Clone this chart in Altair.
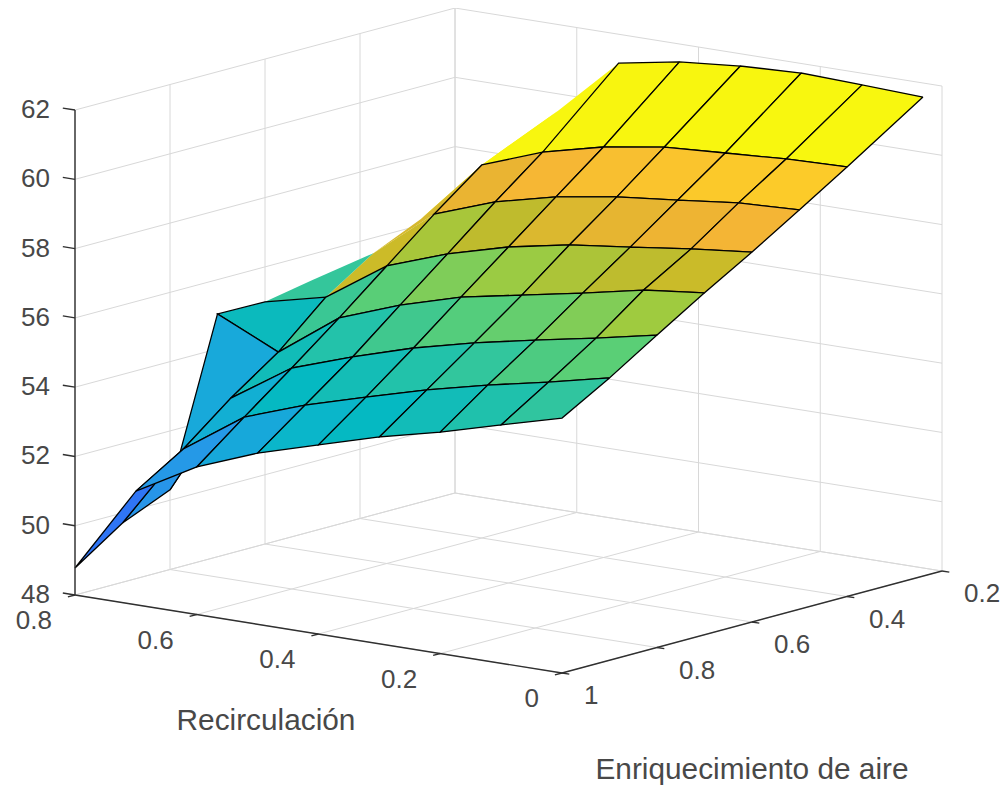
import altair as alt
import pandas as pd

RECIRC = [0.0, 0.1, 0.2, 0.3, 0.4, 0.5, 0.6, 0.7, 0.8]
ENRIQ = [0.24, 0.4, 0.5, 0.6, 0.7, 0.8, 0.9, 1.0]
N = None
Z = [
    [61.83, 61.90, 61.96, 61.88, 61.72, 61.40, N, N, N],
    [60.40, 60.35, 60.24, 60.13, 59.85, 59.42, 58.77, N, N],
    [59.53, 59.45, 59.25, 59.06, 58.78, 58.35, 57.72, N, N],
    [58.68, 58.49, 58.26, 58.04, 57.70, 57.22, 56.59, 55.41, 54.99],
    [57.87, 57.67, 57.30, 56.96, 56.62, 56.11, 55.46, 54.19, 55.01],
    [57.02, 56.65, 56.31, 55.95, 55.52, 54.98, 54.38, 53.23, 50.30],
    [56.15, 55.75, 55.38, 54.96, 54.47, 53.96, 53.33, 52.13, 49.71],
    [55.36, 54.88, 54.39, 53.97, 53.46, 52.94, 52.26, 51.28, 48.78],
]
# facets behind the mesh, drawn without edges: (i, j) of the cell, colour value
Z_HIDDEN = {(0, 6): 59.74, (0, 7): 58.07, (1, 7): 56.93, (2, 7): 56.31, (2, 8): 55.25}
HIDDEN_CELLS = [(0, 5, 60.0), (0, 6, 59.9), (1, 6, 58.0), (2, 6, 57.9), (2, 7, 55.4)]

Z_TICKS = [48, 50, 52, 54, 56, 58, 60, 62]
R_TICKS = [0.8, 0.6, 0.4, 0.2, 0.0]
E_TICKS = [1.0, 0.8, 0.6, 0.4, 0.2]
R_LABELS = ["0.8", "0.6", "0.4", "0.2", "0"]
E_LABELS = ["1", "0.8", "0.6", "0.4", "0.2"]

CMAP_Z = [48.8, 51.3, 52.2, 52.9, 53.25, 53.4, 53.5, 54.0, 54.4, 54.9, 55.35, 55.6, 56.2, 57.0,
          57.7, 57.9, 58.05, 58.3, 58.7, 59.53, 59.8, 62.0]
CMAP_C = ["#2f6ff5", "#2f75f5", "#2698e8", "#17a8da", "#18a9da", "#0cb5cc", "#08b7c8", "#05b9c2", "#12bcb8",
          "#20c1ac", "#2fc5a0", "#48ca85", "#5ccf75", "#9ecb40", "#bfbb2d", "#ccbb28",
          "#dcb82f", "#e8b431", "#f5b535", "#fccb29", "#f8f50f", "#f9fb0e"]

FONT = "Liberation Sans"
TEXT = "#484848"


def px(r, e):
    return 562 - 608.75 * r + 475 * (1 - e)


def py(r, e, z):
    return 673 - 97.5 * r - 127.5 * (1 - e) - 34.64 * (z - 48)


def cell_rows(z_at, i, j, c, cid):
    corners = [(i, j), (i, j + 1), (i + 1, j + 1), (i + 1, j), (i, j)]
    return [
        {"x": px(RECIRC[b], ENRIQ[a]), "y": py(RECIRC[b], ENRIQ[a], z_at(a, b)),
         "c": c, "cell": cid, "k": k}
        for k, (a, b) in enumerate(corners)
    ]


def z_all(a, b):
    return Z[a][b] if Z[a][b] is not None else Z_HIDDEN[(a, b)]


mesh, hidden = [], []
for cid, (i, j, c) in enumerate(HIDDEN_CELLS):
    hidden += cell_rows(z_all, i, j, c, cid)
cid = 0
for i in range(len(ENRIQ) - 1):
    for j in reversed(range(len(RECIRC) - 1)):
        if None in (Z[i][j], Z[i][j + 1], Z[i + 1][j], Z[i + 1][j + 1]):
            continue
        mesh += cell_rows(z_all, i, j, Z[i + 1][j], cid)
        cid += 1


def seg_rows(segs):
    rows = []
    for n, (a, b) in enumerate(segs):
        for k, (r, e, z) in enumerate((a, b)):
            rows.append({"x": px(r, e), "y": py(r, e, z), "seg": n, "k": k})
    return rows


R0, R1, E0, E1, Z0, Z1 = 0.0, 0.8, 0.2, 1.0, 48, 62
grid = []
for r in R_TICKS:
    grid.append(((r, E1, Z0), (r, E0, Z0)))
    grid.append(((r, E0, Z0), (r, E0, Z1)))
for e in E_TICKS:
    grid.append(((R1, e, Z0), (R0, e, Z0)))
    grid.append(((R1, e, Z0), (R1, e, Z1)))
for z in Z_TICKS:
    grid.append(((R1, E1, z), (R1, E0, z)))
    grid.append(((R1, E0, z), (R0, E0, z)))

axes = [((R1, E1, Z0), (R0, E1, Z0)), ((R0, E1, Z0), (R0, E0, Z0)), ((R1, E1, Z0), (R1, E1, Z1))]
axes += [((R1, E1, z), (R1 + 0.02, E1, z)) for z in Z_TICKS]
axes += [((r, E1, Z0), (r, E1 + 0.015, Z0)) for r in R_TICKS]
axes += [((R0, e, Z0), (R0 - 0.012, e, Z0)) for e in E_TICKS]

xs = alt.Scale(domain=[8, 1000], nice=False, zero=False)
ys = alt.Scale(domain=[786, 8], nice=False, zero=False)
X = alt.X("x:Q", scale=xs, axis=None)
Y = alt.Y("y:Q", scale=ys, axis=None)
fill = alt.Fill("c:Q", scale=alt.Scale(domain=CMAP_Z, range=CMAP_C, interpolate="rgb"), legend=None)


def lines(rows, color, width):
    return alt.Chart(pd.DataFrame(rows)).mark_line(stroke=color, strokeWidth=width).encode(
        x=X, y=Y, detail="seg:N", order="k:Q")


def facets(rows, **kw):
    return alt.Chart(pd.DataFrame(rows)).mark_line(**kw).encode(
        x=X, y=Y, fill=fill, detail="cell:N", order="k:Q")


def labels(rows, size, **kw):
    return alt.Chart(pd.DataFrame(rows)).mark_text(
        font=FONT, fontSize=size, color=TEXT, baseline="middle", **kw
    ).encode(x=X, y=Y, text="t:N")


z_lab = [{"x": px(R1, E1), "y": py(R1, E1, z), "t": str(z)} for z in Z_TICKS]
r_lab = [{"x": px(r, E1), "y": py(r, E1, Z0), "t": t} for r, t in zip(R_TICKS, R_LABELS)]
e_lab = [{"x": px(R0, e), "y": py(R0, e, Z0), "t": t} for e, t in zip(E_TICKS, E_LABELS)]
titles = [{"x": 266, "y": 721, "t": "Recirculación"}, {"x": 752, "y": 770, "t": "Enriquecimiento de aire"}]

chart = alt.layer(
    lines(seg_rows(grid), "#d8d8d8", 1),
    facets(hidden, strokeWidth=0, stroke="black"),
    facets(mesh, stroke="black", strokeWidth=1.3),
    lines(seg_rows(axes), "#303030", 1.4),
    labels(z_lab, 26, align="right", dx=-25),
    labels(r_lab, 26, align="right", dx=-23, dy=26),
    labels(e_lab, 26, align="left", dx=22, dy=23),
    labels(titles, 29.8, align="center"),
).properties(
    width=992, height=778, padding=0, autosize=alt.AutoSizeParams(type="none")
).configure_view(stroke=None)

chart.save("out.html", embed_options={"renderer": "svg", "actions": False})
